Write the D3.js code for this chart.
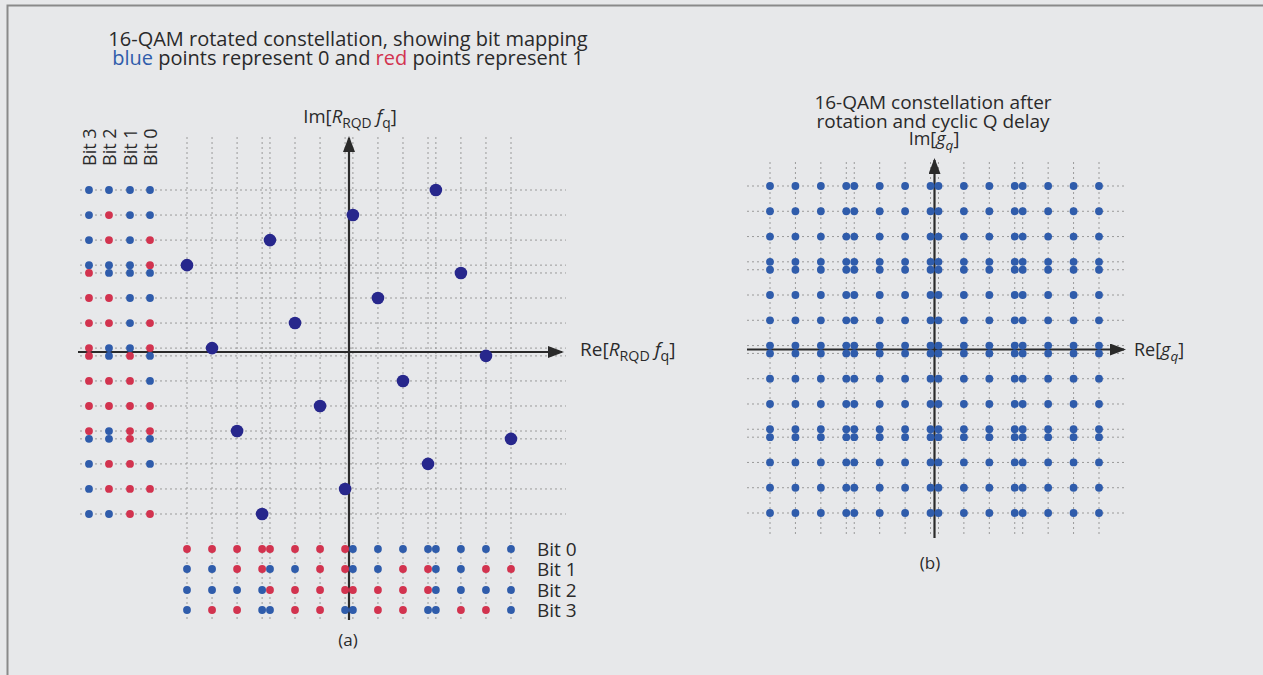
<!DOCTYPE html>
<html>
<head>
<meta charset="utf-8">
<script src="https://cdn.jsdelivr.net/npm/d3@7"></script>
<style>
  body { margin: 0; background: #e7e8ea; }
  svg { display: block; font-family: "Open Sans", "Noto Sans", sans-serif; }
</style>
</head>
<body>
<div id="fig"></div>
<script>
// rotated 16-QAM points (Re, Im) and their bits, written as "b3b2b1b0"
const pointRe = [-3.739, -3.161, -2.583, -2.005, -1.824, -1.246, -0.668, -0.090,
                  0.090,  0.668,  1.246,  1.824,  2.005,  2.583,  3.161,  3.739];
const pointIm = [ 2.005,  0.090, -1.824, -3.739,  2.583,  0.668, -1.246, -3.161,
                  3.161,  1.246, -0.668, -2.583,  3.739,  1.824, -0.090, -2.005];
const pointBits = ["0001", "1001", "1011", "0011", "0101", "1101", "1111", "0111",
                   "0100", "1100", "1110", "0110", "0000", "1000", "1010", "0010"];
const bitNames = ["Bit 3", "Bit 2", "Bit 1", "Bit 0"];
const bottomBitNames = ["Bit 0", "Bit 1", "Bit 2", "Bit 3"];

const titleA = ["16-QAM rotated constellation, showing bit mapping"];
const titleB = ["16-QAM constellation after", "rotation and cyclic Q delay"];

const W = 1263, H = 675;
const blue = "#2f5cab", red = "#d2334f", navy = "#27278c", ink = "#2a2a2a";

const svg = d3.select("#fig").append("svg").attr("width", W).attr("height", H);
svg.append("rect").attr("width", W).attr("height", H).attr("fill", "#e7e8ea");
svg.append("path").attr("d", `M7.5,${H} V5.5 H${W}`).attr("fill", "none")
  .attr("stroke", "#8a8a8a").attr("stroke-width", 2);

const defs = svg.append("defs");
defs.append("marker").attr("id", "arrow").attr("viewBox", "0 0 16 12")
  .attr("refX", 14).attr("refY", 6).attr("markerWidth", 16).attr("markerHeight", 12)
  .attr("markerUnits", "userSpaceOnUse").attr("orient", "auto")
  .append("path").attr("d", "M0,0 L16,6 L0,12 Z").attr("fill", ink);

function grid(g, x, y, xs, ys, x0, x1, y0, y1) {
  g.selectAll(".vg").data(xs).enter().append("line")
    .attr("x1", d => x(d)).attr("x2", d => x(d)).attr("y1", y0).attr("y2", y1)
    .attr("stroke", "#9a9a9a").attr("stroke-width", 1).attr("stroke-dasharray", "2,3");
  g.selectAll(".hg").data(ys).enter().append("line")
    .attr("y1", d => y(d)).attr("y2", d => y(d)).attr("x1", x0).attr("x2", x1)
    .attr("stroke", "#9a9a9a").attr("stroke-width", 1).attr("stroke-dasharray", "2,3");
}

function axes(g, cx, cy, x0, x1, y0, y1) {
  g.append("line").attr("x1", x0).attr("x2", x1).attr("y1", cy).attr("y2", cy)
    .attr("stroke", ink).attr("stroke-width", 2.2).attr("marker-end", "url(#arrow)");
  g.append("line").attr("x1", cx).attr("x2", cx).attr("y1", y1).attr("y2", y0)
    .attr("stroke", ink).attr("stroke-width", 2.2).attr("marker-end", "url(#arrow)");
}

function label(g, x, y, anchor, size, parts) {
  const t = g.append("text").attr("x", x).attr("y", y).attr("text-anchor", anchor)
    .attr("font-size", size).attr("fill", ink);
  parts.forEach(p => {
    const s = t.append("tspan").text(p.t);
    if (p.i) s.attr("font-style", "italic");
    if (p.sub) s.attr("font-size", size * 0.75).attr("dy", 5);
    if (p.up) s.attr("dy", -5);
  });
}

// ---------- panel (a) ----------
const a = svg.append("g");
const xa = d3.scaleLinear().domain([-3.739, 3.739]).range([187, 511]);
const ya = d3.scaleLinear().domain([-3.739, 3.739]).range([514, 190]);
grid(a, xa, ya, pointRe, pointIm, 80, 566, 137, 620);
axes(a, xa(0), ya(0), 78, 562, 138, 620);

a.selectAll(".pt").data(pointRe).enter().append("circle")
  .attr("cx", d => xa(d)).attr("cy", (d, i) => ya(pointIm[i])).attr("r", 6.3)
  .attr("fill", navy);

// left bit columns (projection on Im)
const colX = [89, 109, 130, 150];
bitNames.forEach((name, k) => {
  a.selectAll(".lb" + k).data(pointIm).enter().append("circle")
    .attr("cx", colX[k]).attr("cy", d => ya(d)).attr("r", 3.9)
    .attr("fill", (d, i) => pointBits[i][k] === "1" ? red : blue);
  a.append("text").attr("transform", `translate(${colX[k] + 6.5},166) rotate(-90)`)
    .attr("font-size", 18).attr("fill", ink).text(name);
});

// bottom bit rows (projection on Re)
const rowY = [549, 569, 590, 610];
bottomBitNames.forEach((name, k) => {
  const bi = 3 - k;
  a.selectAll(".bb" + k).data(pointRe).enter().append("circle")
    .attr("cx", d => xa(d)).attr("cy", rowY[k]).attr("r", 3.9)
    .attr("fill", (d, i) => pointBits[i][bi] === "1" ? red : blue);
  a.append("text").attr("x", 537).attr("y", rowY[k] + 6.5)
    .attr("font-size", 19).attr("fill", ink).text(name);
});

a.append("text").attr("x", 348).attr("y", 46).attr("text-anchor", "middle")
  .attr("font-size", 20).attr("fill", ink).text(titleA[0]);
const t2 = a.append("text").attr("x", 348).attr("y", 65).attr("text-anchor", "middle")
  .attr("font-size", 20).attr("fill", ink);
t2.append("tspan").attr("fill", blue).text("blue");
t2.append("tspan").text(" points represent 0 and ");
t2.append("tspan").attr("fill", red).text("red");
t2.append("tspan").text(" points represent 1");

label(a, 350, 123, "middle", 18.5, [{t: "Im["}, {t: "R", i: 1}, {t: "RQD", sub: 1}, {t: " ", up: 1},
  {t: "f", i: 1}, {t: "q", sub: 1}, {t: "]", up: 1}]);
label(a, 580, 356, "start", 19, [{t: "Re["}, {t: "R", i: 1}, {t: "RQD", sub: 1}, {t: " ", up: 1},
  {t: "f", i: 1}, {t: "q", sub: 1}, {t: "]", up: 1}]);
a.append("text").attr("x", 348).attr("y", 646).attr("text-anchor", "middle")
  .attr("font-size", 17).attr("fill", ink).text("(a)");

// ---------- panel (b) ----------
const b = svg.append("g");
const xb = d3.scaleLinear().domain([-3.739, 3.739]).range([770, 1099]);
const yb = d3.scaleLinear().domain([-3.739, 3.739]).range([513, 186]);
grid(b, xb, yb, pointRe, pointIm, 747, 1125, 162, 536);
axes(b, xb(0), yb(0), 747, 1124, 160, 538);

const cross = [];
pointRe.forEach(re => pointIm.forEach(im => cross.push([re, im])));
b.selectAll(".q").data(cross).enter().append("circle")
  .attr("cx", d => xb(d[0])).attr("cy", d => yb(d[1])).attr("r", 3.9)
  .attr("fill", blue);

titleB.forEach((s, i) => b.append("text").attr("x", 933).attr("y", 109 + i * 18.5)
  .attr("text-anchor", "middle").attr("font-size", 19).attr("fill", ink).text(s));
label(b, 934, 145, "middle", 18, [{t: "Im["}, {t: "g", i: 1}, {t: "q", i: 1, sub: 1}, {t: "]", up: 1}]);
label(b, 1134, 356, "start", 18, [{t: "Re["}, {t: "g", i: 1}, {t: "q", i: 1, sub: 1}, {t: "]", up: 1}]);
b.append("text").attr("x", 930).attr("y", 569).attr("text-anchor", "middle")
  .attr("font-size", 17).attr("fill", ink).text("(b)");
</script>
</body>
</html>
